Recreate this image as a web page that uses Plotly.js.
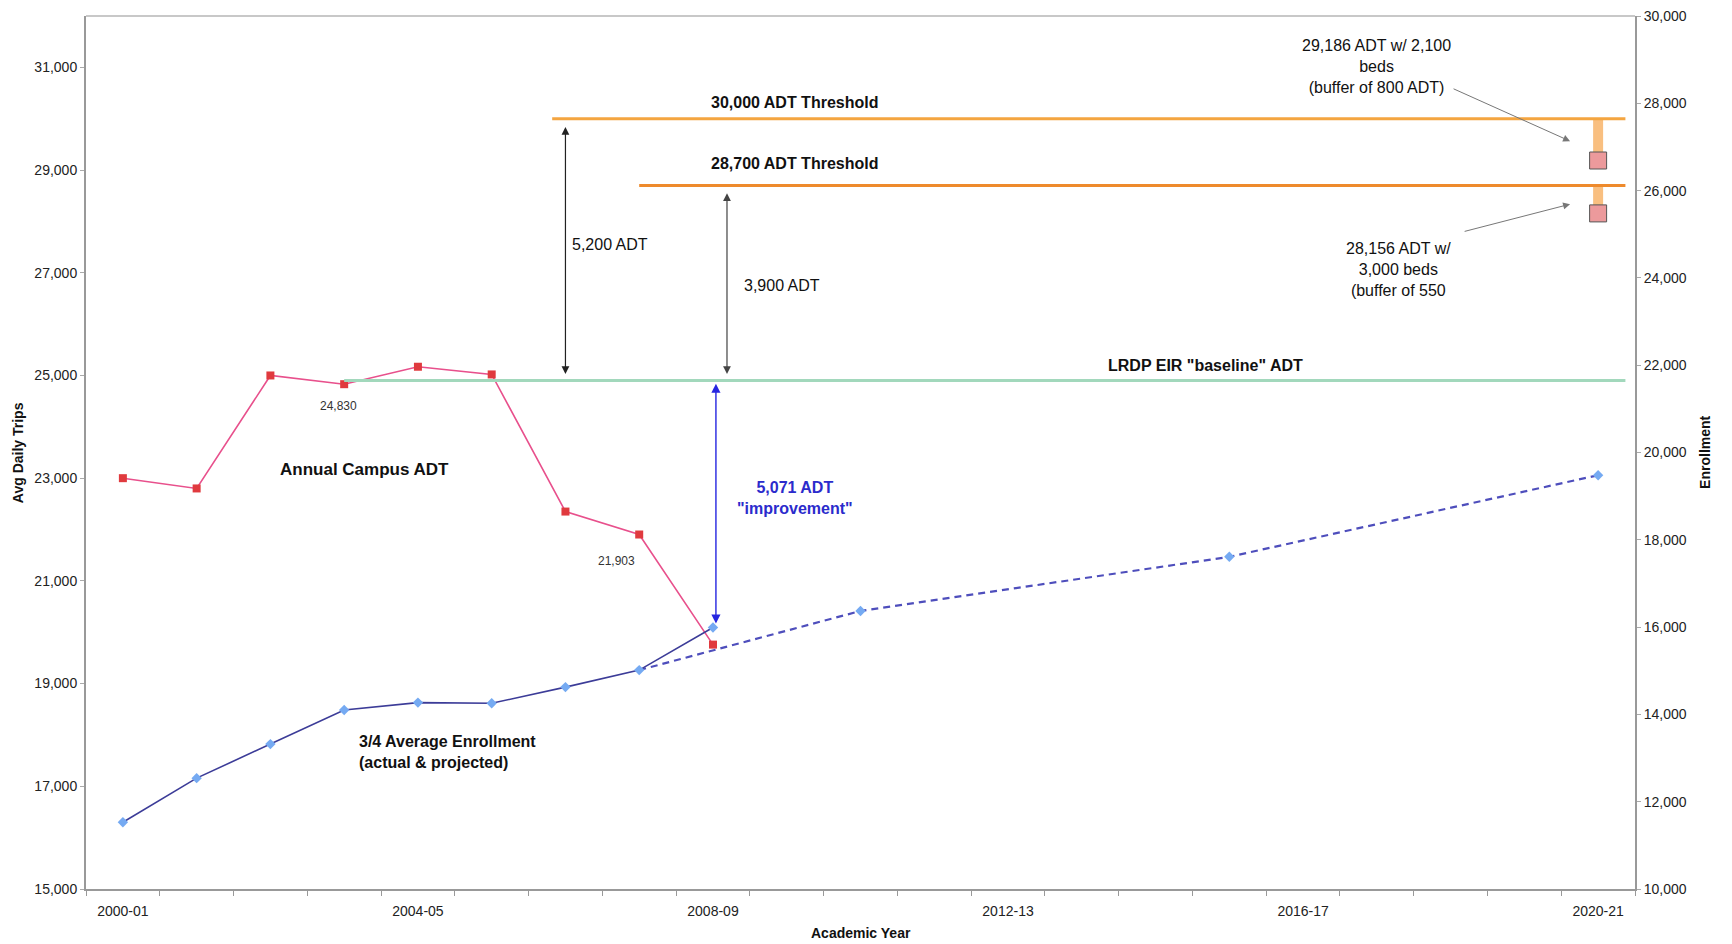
<!DOCTYPE html>
<html>
<head>
<meta charset="utf-8">
<script src="https://cdn.plot.ly/plotly-3.0.1.min.js"></script>
<style>html,body{margin:0;padding:0;background:#fff;}#chart{width:1732px;height:944px;}</style>
</head>
<body>
<div id="chart"></div>
<script>
// ---- data ----
const years = ['2000-01','2001-02','2002-03','2003-04','2004-05','2005-06','2006-07','2007-08','2008-09','2009-10','2010-11',
               '2011-12','2012-13','2013-14','2014-15','2015-16','2016-17','2017-18','2018-19','2019-20','2020-21'];
const tickLabelYears = ['2000-01','2004-05','2008-09','2012-13','2016-17','2020-21'];

const adtYears = ['2000-01','2001-02','2002-03','2003-04','2004-05','2005-06','2006-07','2007-08','2008-09'];
const adtValues = [23000, 22800, 25000, 24830, 25170, 25020, 22350, 21903, 19759];

const enrollActualYears = ['2000-01','2001-02','2002-03','2003-04','2004-05','2005-06','2006-07','2007-08','2008-09'];
const enrollActual = [11530, 12540, 13320, 14100, 14270, 14255, 14625, 15015, 15990];

const enrollProjYears = ['2007-08','2010-11','2015-16','2020-21'];
const enrollProj = [15015, 16370, 17610, 19480];
const enrollProjMarkerYears = ['2010-11','2015-16','2020-21'];
const enrollProjMarkers = [16370, 17610, 19480];

const projYear = '2020-21';
const projADT = [29186, 28156];          // with 2,100 beds / 3,000 beds
const thresholds = [30000, 28700];
const baselineADT = 24830;
const baselineLineLevel = 24900;         // as drawn in the picture

// ---- styling helpers ----
const FONT = 'Liberation Sans, Arial, sans-serif';
const idx = c => years.indexOf(c);

const traces = [];
// buffer bars (from projected point up to threshold)
traces.push({
  x: [projYear, projYear, null, projYear, projYear],
  y: [projADT[0], thresholds[0], null, projADT[1], thresholds[1]],
  mode: 'lines', line: {color: '#f9bf80', width: 10}, hoverinfo: 'skip', showlegend: false
});
// enrollment projected (dashed)
traces.push({
  x: enrollProjYears, y: enrollProj, yaxis: 'y2', mode: 'lines',
  line: {color: '#4e4ebc', width: 2.2, dash: '7px,5px'}, showlegend: false
});
traces.push({
  x: enrollProjMarkerYears, y: enrollProjMarkers, yaxis: 'y2', mode: 'markers',
  marker: {symbol: 'diamond', size: 8, color: '#75aaf2'}, showlegend: false
});
// enrollment actual
traces.push({
  x: enrollActualYears, y: enrollActual, yaxis: 'y2', mode: 'lines+markers',
  line: {color: '#3c3c98', width: 1.6},
  marker: {symbol: 'diamond', size: 8, color: '#75aaf2'}, showlegend: false
});
// annual ADT
traces.push({
  x: adtYears, y: adtValues, mode: 'lines+markers',
  line: {color: '#e8508c', width: 1.6},
  marker: {symbol: 'square', size: 8, color: '#e03a3e'}, showlegend: false
});
// projected ADT boxes
traces.push({
  x: [projYear, projYear], y: projADT, mode: 'markers',
  marker: {symbol: 'square', size: 17, color: '#ec9a9c', line: {color: '#555', width: 1}}, showlegend: false
});

const shapes = [
  // top frame line
  {type: 'line', xref: 'paper', yref: 'paper', x0: 0, x1: 1, y0: 1, y1: 1, line: {color: '#c8c8c8', width: 2}},
  // thresholds
  {type: 'line', xref: 'x', yref: 'y', x0: 5.82, x1: 20.37, y0: thresholds[0], y1: thresholds[0], line: {color: '#f4a540', width: 3}},
  {type: 'line', xref: 'x', yref: 'y', x0: 7.0, x1: 20.37, y0: thresholds[1], y1: thresholds[1], line: {color: '#ee8a2c', width: 3}},
  // baseline
  {type: 'line', xref: 'x', yref: 'y', x0: idx('2003-04'), x1: 20.37, y0: baselineLineLevel, y1: baselineLineLevel, line: {color: '#a2d8bc', width: 3}}
];

function arrow(x, yTip, yTail, color, both, w) {
  return {x: x, y: yTip, ax: x, ay: yTail, xref: 'x', yref: 'y', axref: 'x', ayref: 'y',
          text: '', showarrow: true, arrowhead: 2, arrowsize: 1.3, arrowwidth: w || 1.2,
          arrowcolor: color, arrowside: both ? 'end+start' : 'end', standoff: 0, startstandoff: 0,
          startarrowhead: 2, startarrowsize: 1.3};
}

const txt = (x, y, text, opts) => Object.assign({x: x, y: y, xref: 'x', yref: 'y', text: text, showarrow: false,
  font: {family: FONT, size: 16, color: '#111'}}, opts || {});

const annotations = [
  arrow(6.0, thresholds[0] - 160, baselineLineLevel + 100, '#222', true),
  arrow(8.19, thresholds[1] - 150, baselineLineLevel + 100, '#444', true),
  arrow(8.04, baselineLineLevel - 60, 20140, '#2626e0', true, 1.4),
  txt(2.92, 24400, '24,830', {font: {family: FONT, size: 12, color: '#333'}}),
  txt(6.69, 21392, '21,903', {font: {family: FONT, size: 12, color: '#333'}}),
  txt(3.28, 23173, '<b>Annual Campus ADT</b>', {font: {family: FONT, size: 17, color: '#111'}}),
  txt(3.17, 17672, '<b>3/4 Average Enrollment<br>(actual &amp; projected)</b>', {xanchor: 'left', align: 'left', font: {family: FONT, size: 16, color: '#111'}}),
  txt(9.11, 30316, '<b>30,000 ADT Threshold</b>'),
  txt(9.11, 29132, '<b>28,700 ADT Threshold</b>'),
  txt(14.68, 25200, '<b>LRDP EIR "baseline" ADT</b>'),
  txt(6.06, 27541, '5,200 ADT', {xanchor: 'left'}),
  txt(8.40, 26747, '3,900 ADT', {xanchor: 'left'}),
  txt(9.11, 22614, '<b>5,071 ADT<br>"improvement"</b>', {font: {family: FONT, size: 16, color: '#2b2bcc'}}),
  txt(16.99, 31025, '29,186 ADT w/ 2,100<br>beds<br>(buffer of 800 ADT)'),
  txt(17.30, 27068, '28,156 ADT w/<br>3,000 beds<br>(buffer of 550'),
  {x: 19.62, y: 29563, ax: 18.02, ay: 30595, xref: 'x', yref: 'y', axref: 'x', ayref: 'y', text: '', showarrow: true,
   arrowhead: 2, arrowsize: 1.4, arrowwidth: 1, arrowcolor: '#777', standoff: 0},
  {x: 19.62, y: 28336, ax: 18.17, ay: 27798, xref: 'x', yref: 'y', axref: 'x', ayref: 'y', text: '', showarrow: true,
   arrowhead: 2, arrowsize: 1.4, arrowwidth: 1, arrowcolor: '#777', standoff: 0},
  // axis titles
  {xref: 'paper', yref: 'paper', x: -0.0441, y: 0.5, text: '<b>Avg Daily Trips</b>', textangle: -90, showarrow: false,
   xanchor: 'center', yanchor: 'middle', font: {family: FONT, size: 14, color: '#111'}},
  {xref: 'paper', yref: 'paper', x: 1.0448, y: 0.5, text: '<b>Enrollment</b>', textangle: -90, showarrow: false,
   xanchor: 'center', yanchor: 'middle', font: {family: FONT, size: 14, color: '#111'}},
  {xref: 'paper', yref: 'paper', x: 0.5, y: -0.0505, text: '<b>Academic Year</b>', showarrow: false,
   xanchor: 'center', yanchor: 'middle', font: {family: FONT, size: 14, color: '#111'}}
];

const layout = {
  width: 1732, height: 944,
  margin: {l: 86, r: 97, t: 16, b: 55},
  paper_bgcolor: '#fff', plot_bgcolor: '#fff',
  font: {family: FONT, size: 14, color: '#222'},
  showlegend: false,
  xaxis: {
    type: 'category', categoryorder: 'array', categoryarray: years,
    range: [-0.5, 20.5], tickson: 'boundaries',
    tickvals: years, ticktext: years.map(y => tickLabelYears.includes(y) ? y : ''),
    ticks: 'outside', ticklen: 5, tickcolor: '#999', tickwidth: 1, ticklabelstandoff: 8,
    showline: true, linecolor: '#999', linewidth: 2, showgrid: false, zeroline: false,
    tickfont: {family: FONT, size: 14, color: '#222'}
  },
  yaxis: {
    range: [15000, 32000], tick0: 15000, dtick: 2000, tickformat: ',d',
    ticks: 'outside', ticklen: 4, tickcolor: '#aaa',
    showline: true, linecolor: '#999', linewidth: 2, showgrid: false, zeroline: false,
    tickfont: {family: FONT, size: 14, color: '#222'}
  },
  yaxis2: {
    overlaying: 'y', side: 'right',
    range: [10000, 30000], tick0: 10000, dtick: 2000, tickformat: ',d',
    ticks: 'outside', ticklen: 4, tickcolor: '#aaa',
    showline: true, linecolor: '#999', linewidth: 2, showgrid: false, zeroline: false,
    tickfont: {family: FONT, size: 14, color: '#222'}
  },
  shapes: shapes,
  annotations: annotations
};

Plotly.newPlot('chart', traces, layout, {displayModeBar: false, staticPlot: true});
</script>
</body>
</html>
